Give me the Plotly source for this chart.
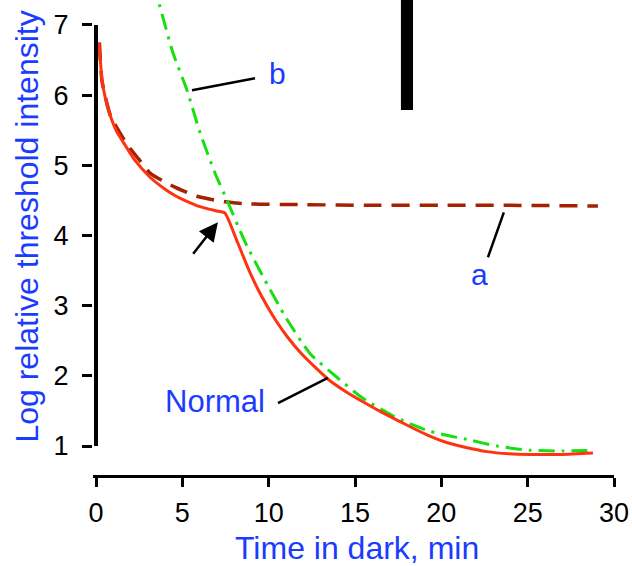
import plotly.graph_objects as go

# Dark adaptation curves: log threshold vs time in dark
normal_t = [0.17, 0.25, 0.35, 0.55, 0.81, 1.2, 1.68, 2.26, 3.13, 4.0, 4.57, 5.04, 5.8, 6.49, 7.0, 7.47,
            8.2, 8.92, 9.6, 10.36, 11.1, 11.81, 12.7, 13.55, 14.5, 15.46, 16.4, 17.43, 18.4, 19.34,
            20.3, 21.25, 22.64, 23.9, 25.13, 27.0, 28.78]
normal_y = [6.75, 6.5, 6.21, 5.95, 5.72, 5.48, 5.29, 5.07, 4.83, 4.66, 4.57, 4.51, 4.43, 4.38, 4.35, 4.32,
            3.90, 3.47, 3.13, 2.81, 2.55, 2.34, 2.12, 1.93, 1.77, 1.63, 1.50, 1.37, 1.25, 1.14,
            1.05, 0.99, 0.92, 0.89, 0.88, 0.88, 0.90]

cone_t = [0.2, 0.35, 0.85, 1.8, 2.5, 3.13, 4.57, 5.85, 7.47, 8.92, 12.0, 16.0, 20.0, 24.0, 29.07]
cone_y = [6.75, 6.2, 5.7, 5.3, 5.08, 4.89, 4.69, 4.56, 4.48, 4.45, 4.44, 4.43, 4.43, 4.43, 4.42]

rod_t = [3.2, 3.59, 4.46, 5.27, 6.02, 6.89, 7.59, 8.63, 9.79, 11.0, 12.39, 13.95, 15.46, 17.43,
         19.34, 21.66, 23.22, 25.13, 27.04, 28.78]
rod_y = [7.6, 7.35, 6.6, 6.07, 5.47, 4.89, 4.50, 3.91, 3.36, 2.83, 2.32, 1.98, 1.68, 1.40,
         1.21, 1.085, 1.0, 0.94, 0.93, 0.94]

x_ticks = [0, 5, 10, 15, 20, 25, 30]
y_ticks = [1, 2, 3, 4, 5, 6, 7]

BLUE = "#1a3cff"
FONT = "Liberation Sans, Arial, sans-serif"

fig = go.Figure()
fig.add_trace(go.Scatter(x=cone_t, y=cone_y, mode="lines",
                         line=dict(color="#a52200", width=3.5, dash="18px,10px", shape="spline", smoothing=0.6),
                         hoverinfo="skip"))
fig.add_trace(go.Scatter(x=rod_t, y=rod_y, mode="lines",
                         line=dict(color="#18e010", width=3, dash="16px,7px,3px,7px", shape="spline", smoothing=0.6),
                         hoverinfo="skip"))
fig.add_trace(go.Scatter(x=normal_t, y=normal_y, mode="lines",
                         line=dict(color="#ff3311", width=3, shape="spline", smoothing=0.5),
                         hoverinfo="skip"))

shapes = [
    # left spine, spanning only the labelled range
    dict(type="line", xref="x", yref="y", x0=0, x1=0, y0=1, y1=7, line=dict(color="black", width=4)),
    # black bar at the top
    dict(type="rect", xref="x", yref="y", x0=17.66, x1=18.36, y0=5.79, y1=7.6,
         fillcolor="black", line=dict(width=0)),
    # leader lines for the labels
    dict(type="line", xref="x", yref="y", x0=5.56, y0=6.07, x1=9.21, y1=6.24, line=dict(color="black", width=2.5)),
    dict(type="line", xref="x", yref="y", x0=22.7, y0=3.69, x1=23.62, y1=4.33, line=dict(color="black", width=2.5)),
    dict(type="line", xref="x", yref="y", x0=10.54, y0=1.61, x1=13.43, y1=1.97, line=dict(color="black", width=2.5)),
]

annotations = [
    dict(x=10.54, y=6.31, text="b", showarrow=False, font=dict(size=30, color=BLUE, family=FONT)),
    dict(x=22.23, y=3.45, text="a", showarrow=False, font=dict(size=30, color=BLUE, family=FONT)),
    dict(x=6.89, y=1.63, text="Normal", showarrow=False, font=dict(size=31, color=BLUE, family=FONT)),
    dict(x=7.06, y=4.19, ax=5.56, ay=3.72, axref="x", ayref="y", text="", showarrow=True,
         arrowhead=2, arrowsize=1.5, arrowwidth=2.5, arrowcolor="black", standoff=0, startstandoff=0),
    # axis titles
    dict(xref="paper", yref="paper", x=-0.1267, y=0.523, text="Log relative threshold intensity",
         textangle=-90, showarrow=False, xanchor="center", yanchor="middle",
         font=dict(size=32, color=BLUE, family=FONT)),
    dict(xref="paper", yref="paper", x=0.5067, y=-0.154, text="Time in dark, min",
         showarrow=False, xanchor="center", yanchor="middle",
         font=dict(size=32, color=BLUE, family=FONT)),
]

fig.update_layout(
    width=632, height=566,
    margin=dict(l=93, r=18, t=0, b=91),
    paper_bgcolor="white", plot_bgcolor="white",
    showlegend=False,
    font=dict(family=FONT, color="black"),
    shapes=shapes,
    annotations=annotations,
    xaxis=dict(range=[-0.174, 30], tickvals=x_ticks, showgrid=False, zeroline=False,
               showline=True, linecolor="black", linewidth=3,
               ticks="outside", ticklen=9, tickwidth=3, tickcolor="black",
               tickfont=dict(size=27, family=FONT, color="black"), ticklabelstandoff=3),
    yaxis=dict(range=[0.587, 7.356], tickvals=y_ticks, showgrid=False, zeroline=False,
               showline=False,
               ticks="outside", ticklen=10, tickwidth=3, tickcolor="black",
               tickfont=dict(size=27, family=FONT, color="black"), ticklabelstandoff=8),
)

fig.write_html("out.html")
